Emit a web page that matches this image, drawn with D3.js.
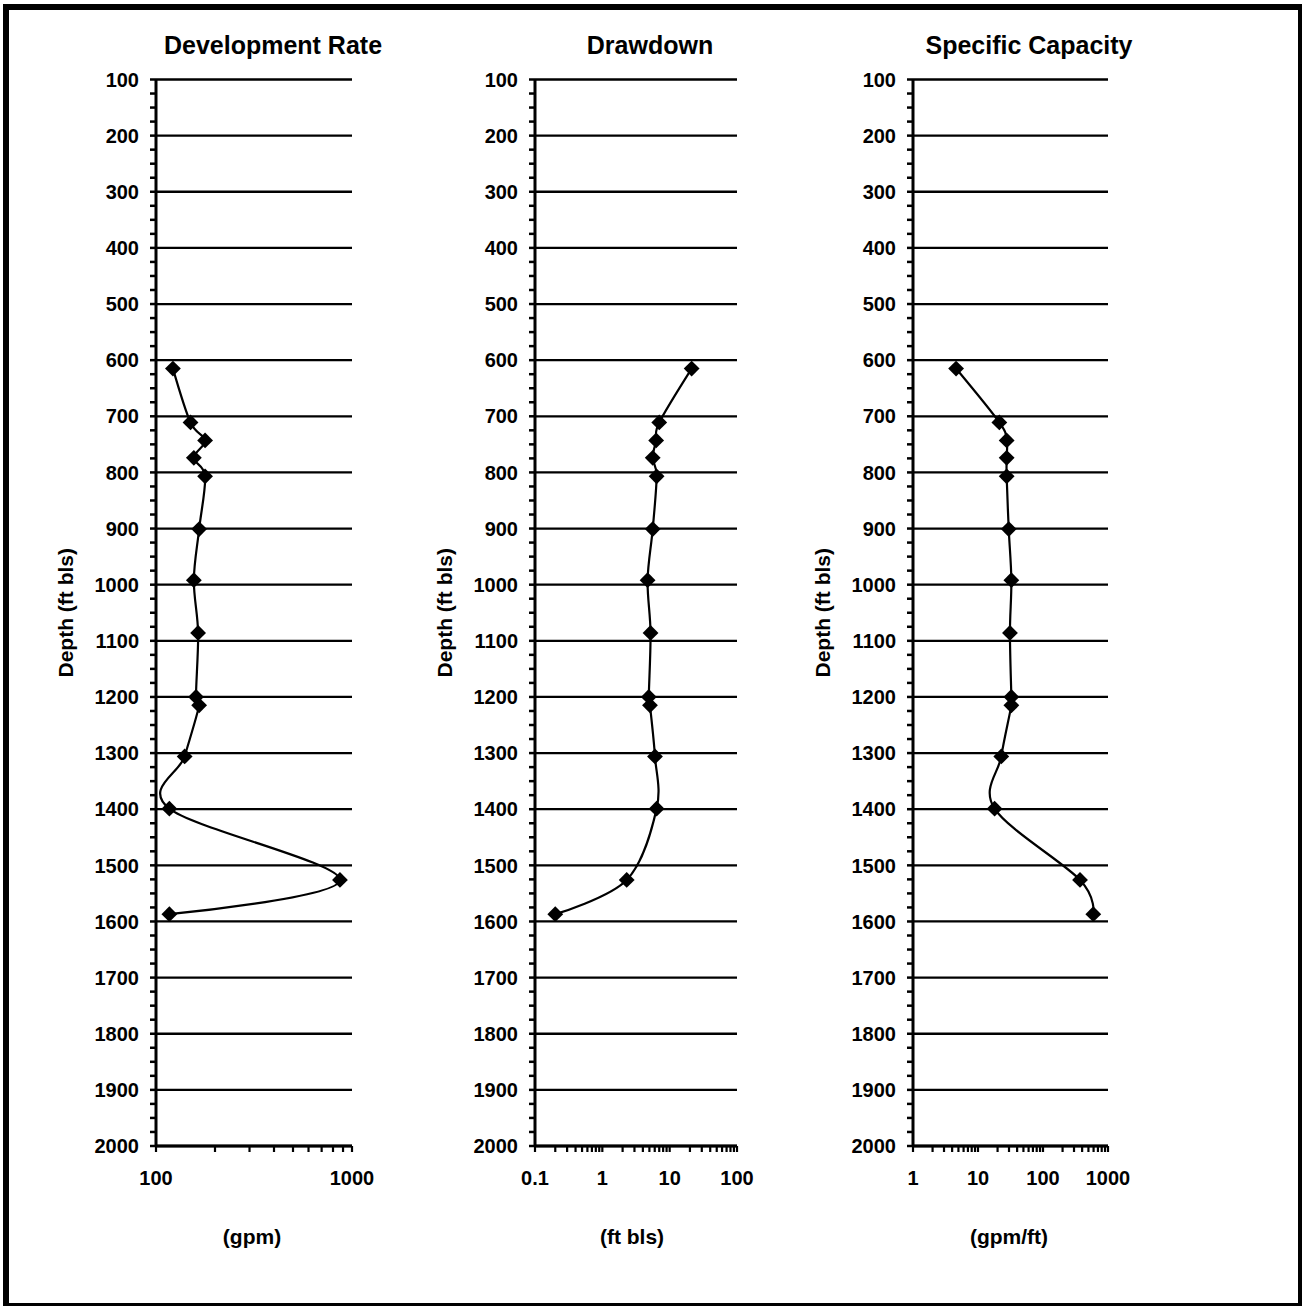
<!DOCTYPE html>
<html>
<head>
<meta charset="utf-8">
<script src="https://cdn.jsdelivr.net/npm/d3@7"></script>
<style>
  html, body { margin: 0; padding: 0; background: #fff; }
  svg { display: block; }
  text { font-family: "Liberation Sans", Arial, Helvetica, sans-serif; font-weight: bold; fill: #000; }
</style>
</head>
<body>
<svg id="chart" width="1302" height="1306"></svg>
<script>
// Test depths (ft below land surface)
const depths = [615, 711, 743, 774, 807, 901, 992, 1086, 1200, 1215, 1306, 1399, 1526, 1587];

// Measured values at each test depth
const devRate  = [122, 150, 178, 156, 178, 166, 156, 164, 160, 166, 140, 117, 868, 117];        // gpm
const drawdown = [21.2, 7.0, 6.3, 5.6, 6.4, 5.6, 4.7, 5.2, 4.9, 5.1, 6.05, 6.4, 2.3, 0.2];      // ft bls
const specCap  = [4.6, 21.3, 27.6, 27.6, 27.6, 29.7, 32.6, 31, 32.6, 32.6, 22.8, 18.0, 371, 594]; // gpm/ft

// Panel titles, axis titles and axis ranges
const panelTitles = ["Development Rate", "Drawdown", "Specific Capacity"];
const xTitles = ["(gpm)", "(ft bls)", "(gpm/ft)"];
const xDomains = [[100, 1000], [0.1, 100], [1, 1000]];
const xTickLabels = [["100", "1000"], ["0.1", "1", "10", "100"], ["1", "10", "100", "1000"]];
const yDomain = [100, 2000];
const yTickLabels = d3.range(100, 2001, 100).map(String);
const yTitle = "Depth (ft bls)";

const series = [devRate, drawdown, specCap];

// Layout of the three side-by-side panels
const layout = [
  { left: 156, right: 352, titleX: 273, xTitleX: 252, yTitleX: 66 },
  { left: 535, right: 737, titleX: 650, xTitleX: 632, yTitleX: 445 },
  { left: 913, right: 1108, titleX: 1029, xTitleX: 1009, yTitleX: 823 }
];
const plotTop = 79.5, plotBottom = 1146;

const svg = d3.select("#chart");

// Outer frame
svg.append("rect")
  .attr("x", 6).attr("y", 7)
  .attr("width", 1295).attr("height", 1299)
  .attr("fill", "none").attr("stroke", "#000").attr("stroke-width", 6);

const y = d3.scaleLinear().domain(yDomain).range([plotTop, plotBottom]);

layout.forEach((L, i) => {
  const g = svg.append("g");
  const x = d3.scaleLog().domain(xDomains[i]).range([L.left, L.right]);

  // Horizontal gridlines every 100 ft
  g.selectAll("line.grid")
    .data(yTickLabels.map(Number))
    .join("line")
    .attr("class", "grid")
    .attr("x1", L.left).attr("x2", L.right)
    .attr("y1", d => y(d)).attr("y2", d => y(d))
    .attr("stroke", "#000").attr("stroke-width", 2.3);

  // Y axis with ticks every 25 ft
  g.append("line")
    .attr("x1", L.left).attr("x2", L.left)
    .attr("y1", plotTop).attr("y2", plotBottom)
    .attr("stroke", "#000").attr("stroke-width", 3);
  g.selectAll("line.ytick")
    .data(d3.range(yDomain[0], yDomain[1] + 1, 25))
    .join("line")
    .attr("class", "ytick")
    .attr("x1", L.left - 6).attr("x2", L.left)
    .attr("y1", d => y(d)).attr("y2", d => y(d))
    .attr("stroke", "#000").attr("stroke-width", 2.5);
  g.selectAll("text.ylab")
    .data(yTickLabels)
    .join("text")
    .attr("class", "ylab")
    .attr("x", L.left - 17)
    .attr("y", d => y(+d))
    .attr("dy", "0.36em")
    .attr("text-anchor", "end")
    .attr("font-size", 20)
    .text(d => d);

  // X axis (log) with minor ticks at 2..9 of each decade
  g.append("line")
    .attr("x1", L.left).attr("x2", L.right)
    .attr("y1", plotBottom).attr("y2", plotBottom)
    .attr("stroke", "#000").attr("stroke-width", 3);
  const [lo, hi] = xDomains[i];
  const xticks = [];
  for (let dec = lo; dec < hi * 0.999; dec *= 10) {
    for (let m = 1; m <= 9; m++) xticks.push(dec * m);
  }
  xticks.push(hi);
  g.selectAll("line.xtick")
    .data(xticks)
    .join("line")
    .attr("class", "xtick")
    .attr("x1", d => x(d)).attr("x2", d => x(d))
    .attr("y1", plotBottom).attr("y2", plotBottom + 6)
    .attr("stroke", "#000").attr("stroke-width", 2.2);
  g.selectAll("text.xlab")
    .data(xTickLabels[i])
    .join("text")
    .attr("class", "xlab")
    .attr("x", d => x(+d))
    .attr("y", 1185)
    .attr("text-anchor", "middle")
    .attr("font-size", 20)
    .text(d => d);

  // Titles
  g.append("text")
    .attr("x", L.titleX).attr("y", 54)
    .attr("text-anchor", "middle")
    .attr("font-size", 25)
    .text(panelTitles[i]);
  g.append("text")
    .attr("x", L.xTitleX).attr("y", 1244)
    .attr("text-anchor", "middle")
    .attr("font-size", 21)
    .text(xTitles[i]);
  g.append("text")
    .attr("transform", `translate(${L.yTitleX + 7},${(plotTop + plotBottom) / 2}) rotate(-90)`)
    .attr("text-anchor", "middle")
    .attr("font-size", 21)
    .text(yTitle);

  // Smoothed profile line and diamond markers
  const pts = depths.map((d, k) => [x(series[i][k]), y(d)]);
  g.append("path")
    .attr("d", d3.line().curve(d3.curveCardinal.tension(0))(pts))
    .attr("fill", "none").attr("stroke", "#000").attr("stroke-width", 2.2);
  g.selectAll("path.marker")
    .data(pts)
    .join("path")
    .attr("class", "marker")
    .attr("d", d3.symbol().type(d3.symbolSquare).size(125))
    .attr("transform", p => `translate(${p[0]},${p[1]}) rotate(45)`)
    .attr("fill", "#000");
});
</script>
</body>
</html>
